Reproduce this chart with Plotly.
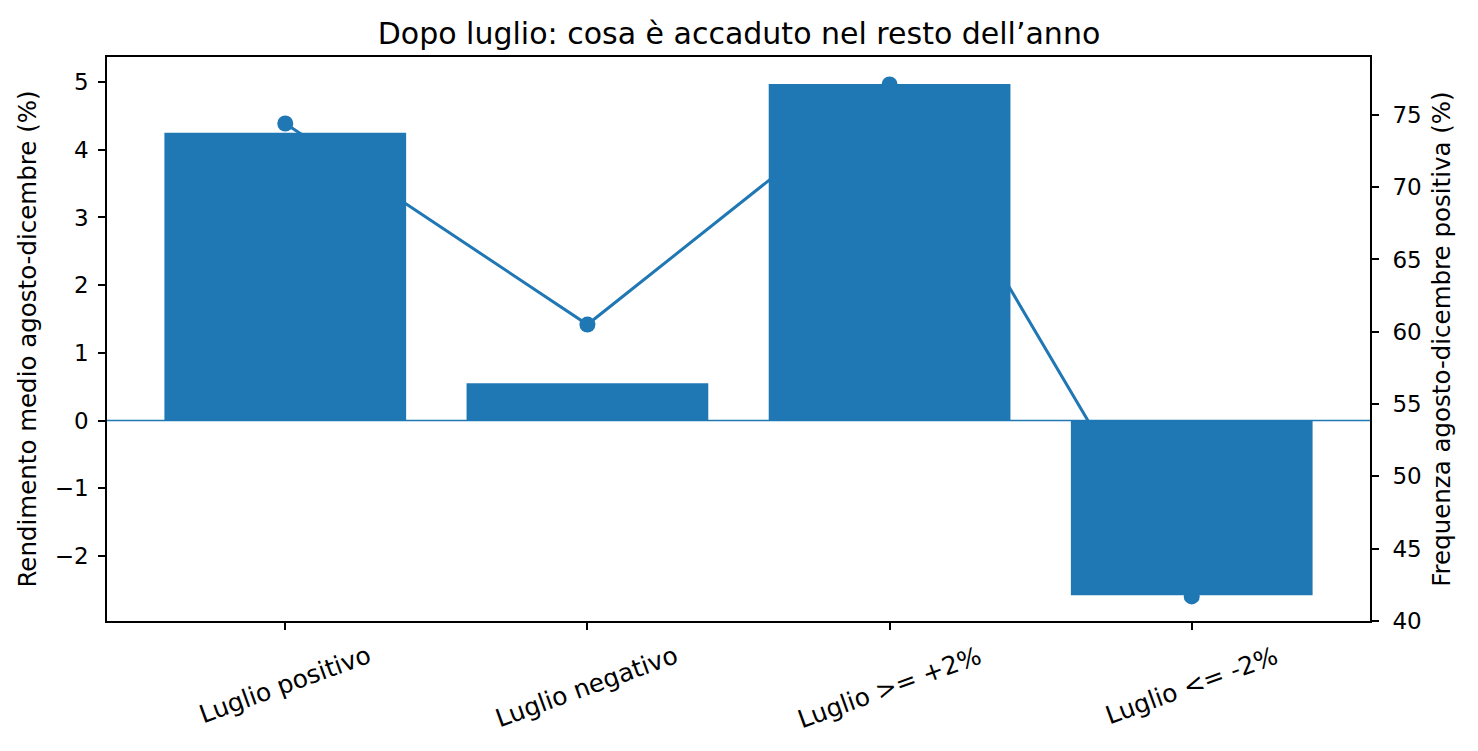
import plotly.graph_objects as go

categories = ["Luglio positivo", "Luglio negativo", "Luglio >= +2%", "Luglio <= -2%"]
rendimento_medio = [4.25, 0.55, 4.97, -2.58]
frequenza_positiva = [74.4, 60.5, 77.1, 41.7]

BLUE = "#1f77b4"
FONT = "DejaVu Sans"
TICK_SIZE = 23

fig = go.Figure()
xs = list(range(len(categories)))
fig.add_trace(go.Bar(
    x=xs, y=rendimento_medio, width=0.8,
    marker=dict(color=BLUE, line=dict(width=0)), yaxis="y", showlegend=False,
))
fig.add_trace(go.Scatter(
    x=xs, y=frequenza_positiva, mode="lines+markers",
    line=dict(color=BLUE, width=3), marker=dict(color=BLUE, size=16),
    yaxis="y2", showlegend=False,
))
fig.add_shape(type="line", xref="paper", yref="y", x0=0, x1=1, y0=0, y1=0,
              line=dict(color=BLUE, width=1.5), layer="above")

# rotated category labels, centred under each tick (like matplotlib rotation=20)
for i, c in enumerate(categories):
    fig.add_annotation(x=i, xref="x", y=-0.03, yref="paper", text=c,
                       showarrow=False, textangle=-20, xanchor="center", yanchor="top",
                       font=dict(family=FONT, size=25, color="black"))

axis_common = dict(showgrid=False, zeroline=False, ticks="outside", ticklen=7,
                   tickwidth=1.7, tickcolor="black", linecolor="black", linewidth=1.7,
                   showline=True, tickfont=dict(family=FONT, size=TICK_SIZE, color="black"))

fig.update_layout(
    width=1478, height=751,
    margin=dict(l=107, r=108, t=57, b=130),
    plot_bgcolor="white", paper_bgcolor="white",
    font=dict(family=FONT, size=TICK_SIZE, color="black"),
    title=dict(text="Dopo luglio: cosa è accaduto nel resto dell\u2019anno",
               x=0.5, xanchor="center", y=1 - 33 / 751, yanchor="middle",
               font=dict(family=FONT, size=30, color="black")),
    xaxis=dict(**axis_common, mirror=True, range=[-0.59, 3.59],
               tickvals=xs, ticktext=["", "", "", ""]),
    yaxis=dict(**axis_common, mirror=True, range=[-2.96, 5.37],
               tickvals=[-2, -1, 0, 1, 2, 3, 4, 5],
               ticktext=["\u22122", "\u22121", "0", "1", "2", "3", "4", "5"],
               ticklabelstandoff=5,
               title=dict(text="Rendimento medio agosto-dicembre (%)",
                          font=dict(family=FONT, size=24.5), standoff=11)),
    yaxis2=dict(**axis_common, overlaying="y", side="right", range=[40, 79.0],
                tickvals=[40, 45, 50, 55, 60, 65, 70, 75],
                ticklabelstandoff=9,
                title=dict(text="Frequenza agosto-dicembre positiva (%)",
                           font=dict(family=FONT, size=24.5), standoff=12)),
)

fig.write_html("out.html")
